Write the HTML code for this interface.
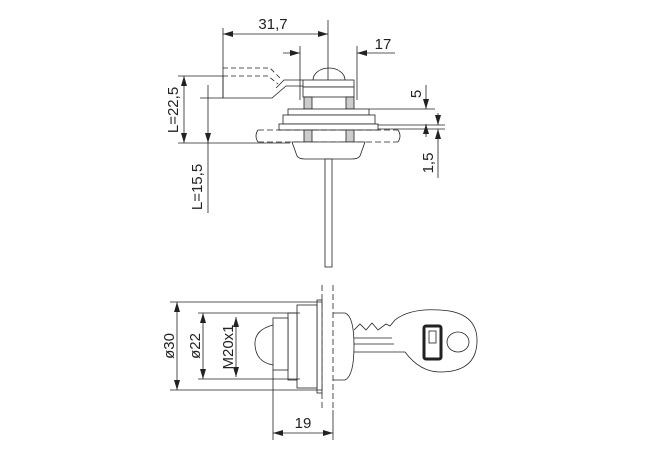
<!DOCTYPE html>
<html><head><style>body{margin:0;background:#fff}svg{display:block}text{font-family:"Liberation Sans",sans-serif;font-size:15px;fill:#222}</style></head><body>
<svg width="650" height="450" viewBox="0 0 650 450" xmlns="http://www.w3.org/2000/svg">
<defs><marker id="a" markerWidth="10" markerHeight="6" refX="10" refY="3" orient="auto-start-reverse" markerUnits="userSpaceOnUse"><path d="M0,0L10,3L0,6z" fill="#222"/></marker></defs>
<g stroke="#222" stroke-width="0.8" fill="none">
<line x1="223" y1="34" x2="328" y2="34" marker-start="url(#a)" marker-end="url(#a)"/>
<line x1="223" y1="28" x2="223" y2="98"/>
<line x1="328" y1="20" x2="328" y2="96"/>
<line x1="283" y1="53" x2="300" y2="53" marker-end="url(#a)"/>
<line x1="357" y1="53" x2="395" y2="53" marker-start="url(#a)"/>
<line x1="300" y1="46" x2="300" y2="100"/>
<line x1="357" y1="46" x2="357" y2="100"/>
<path d="M223,68H270L280,78" stroke-dasharray="5,3"/>
<path d="M223,76H268L278,84" stroke-dasharray="5,3"/>
<path d="M223,76V98H272L286,86H303"/>
<path d="M276,88L284,80H303"/>
<path d="M313,80A16,12 0 0 1 345,80"/>
<rect x="303" y="80" width="51" height="7" fill="#fff"/>
<rect x="303" y="87" width="51" height="10" fill="#fff"/>
<rect x="304" y="97" width="8" height="12" fill="#ccc"/>
<rect x="346" y="97" width="8" height="12" fill="#ccc"/>
<rect x="288" y="109" width="81" height="6" fill="#fff"/>
<rect x="283" y="115" width="92" height="9" fill="#fff"/>
<rect x="279" y="124" width="99" height="6" fill="#fff"/>
<path d="M258,130H398M258,142H398" stroke-dasharray="6,3"/>
<path d="M258,130Q254,136 258,142M398,130Q402,136 398,142"/>
<rect x="304" y="130" width="8" height="12" fill="#ccc"/>
<rect x="346" y="130" width="8" height="12" fill="#ccc"/>
<path d="M292,142H365L360,156Q358,159 352,159H305Q299,159 297,156Z" fill="#fff"/>
<rect x="325" y="159" width="7" height="108" fill="#fff"/>
<line x1="184" y1="76" x2="184" y2="143" marker-start="url(#a)" marker-end="url(#a)"/>
<line x1="178" y1="76" x2="223" y2="76"/>
<line x1="178" y1="143" x2="290" y2="143"/>
<line x1="208" y1="85" x2="208" y2="143" marker-end="url(#a)"/>
<line x1="208" y1="143" x2="208" y2="213"/>
<line x1="200" y1="98" x2="223" y2="98"/>
<line x1="426" y1="85" x2="426" y2="109" marker-end="url(#a)"/>
<line x1="426" y1="124" x2="426" y2="137" marker-start="url(#a)"/>
<line x1="369" y1="109" x2="435" y2="109"/>
<line x1="378" y1="125" x2="445" y2="125"/>
<line x1="378" y1="129" x2="445" y2="129"/>
<line x1="438" y1="113" x2="438" y2="125" marker-end="url(#a)"/>
<line x1="438" y1="129" x2="438" y2="178" marker-start="url(#a)"/>
<path d="M322,285V410M333,285V410" stroke-dasharray="6,3"/>
<rect x="317" y="300" width="5" height="93" fill="#fff"/>
<rect x="297" y="305" width="20" height="83" fill="#fff"/>
<rect x="288" y="313" width="9" height="67" fill="#fff"/>
<rect x="273" y="318" width="15" height="52" fill="#fff"/>
<path d="M273,325Q254,330 255,345Q256,362 273,365"/>
<path d="M333,313H345Q354,316 354,346Q354,376 345,380H333"/>
<path d="M354,330L360,324L366,330L372,323L378,330L386,324L390,326L395,320Q410,308 440,310Q478,312 477,342Q476,372 440,372Q420,372 405,352H354"/>
<path d="M354,338H392M354,344H394"/>
<ellipse cx="458" cy="342" rx="11" ry="10"/>
<rect x="424" y="326" width="17" height="33" rx="2" stroke-width="3"/>
<rect x="429" y="331" width="7" height="12"/>
<line x1="177" y1="302" x2="177" y2="390" marker-start="url(#a)" marker-end="url(#a)"/>
<line x1="170" y1="302" x2="322" y2="302"/>
<line x1="170" y1="390" x2="322" y2="390"/>
<line x1="203" y1="313" x2="203" y2="379" marker-start="url(#a)" marker-end="url(#a)"/>
<line x1="198" y1="313" x2="300" y2="313"/>
<line x1="198" y1="379" x2="300" y2="379"/>
<line x1="236" y1="317" x2="236" y2="377" marker-start="url(#a)" marker-end="url(#a)"/>
<line x1="273" y1="370" x2="273" y2="440"/>
<line x1="333" y1="410" x2="333" y2="440"/>
<line x1="273" y1="433" x2="333" y2="433" marker-start="url(#a)" marker-end="url(#a)"/>
</g>
<text x="273" y="29" text-anchor="middle">31,7</text>
<text x="383" y="49" text-anchor="middle">17</text>
<text transform="translate(178,110) rotate(-90)" text-anchor="middle">L=22,5</text>
<text transform="translate(202,187) rotate(-90)" text-anchor="middle">L=15,5</text>
<text transform="translate(421,94) rotate(-90)" text-anchor="middle">5</text>
<text transform="translate(433,163) rotate(-90)" text-anchor="middle">1,5</text>
<text transform="translate(174,346) rotate(-90)" text-anchor="middle">ø30</text>
<text transform="translate(200,346) rotate(-90)" text-anchor="middle">ø22</text>
<text transform="translate(233,347) rotate(-90)" text-anchor="middle">M20x1</text>
<text x="303" y="428" text-anchor="middle">19</text>
</svg>
</body></html>
